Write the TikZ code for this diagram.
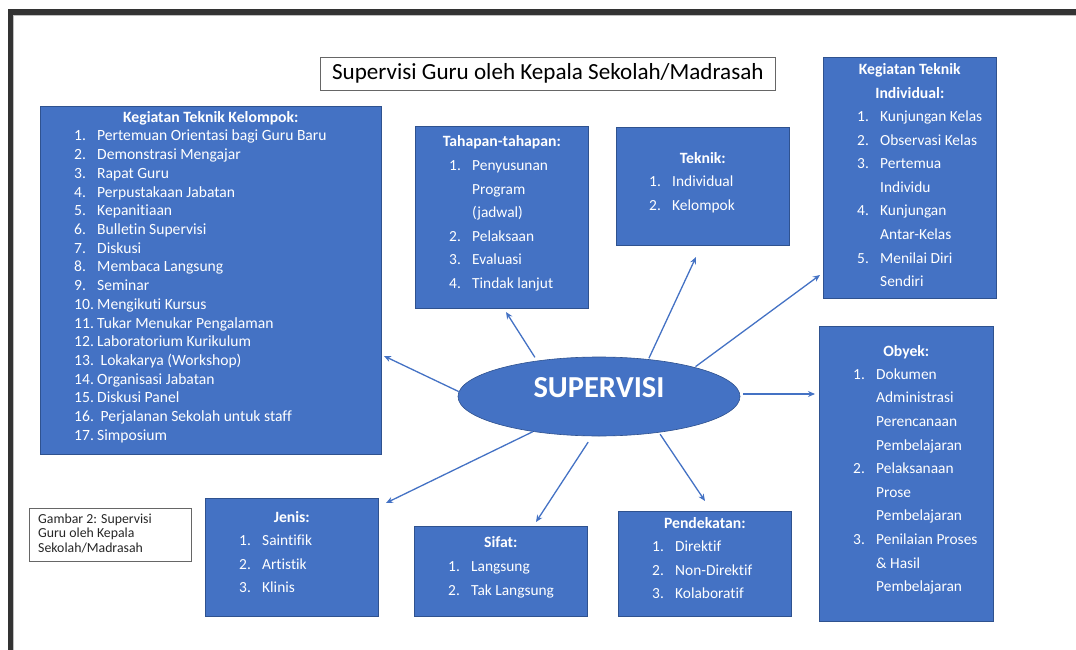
\documentclass[tikz,border=0pt]{standalone}
\usepackage{fontspec}
\setmainfont{Carlito}[Ligatures=NoCommon]
\usetikzlibrary{shapes.geometric,arrows.meta}
\definecolor{obl}{HTML}{4472C4}
\definecolor{obd}{HTML}{2F528F}
\definecolor{frm}{HTML}{333333}
\newlength\numw \setlength\numw{23pt}
\newcommand\itm[2]{\makebox[\numw][l]{#1}#2}
\newcommand\lst[6]{% name, x, y0, dy, size, list
  \foreach [count=\i] \n/\t in {#6} {\node[txt, font=\fontsize{#5}{#5}\selectfont] (#1-\i) at (#2, {#3+(\i-1)*#4}) {\itm{\n}{\t}};}}
\begin{document}
\begin{tikzpicture}[x=1pt,y=-1pt,
  box/.style={draw=obd, line width=0.6pt, fill=obl, anchor=north west, inner sep=0pt, rectangle},
  txt/.style={text=white, anchor=base west, inner sep=0pt},
  hd/.style={text=white, font=\bfseries\fontsize{15.7}{18}\selectfont, anchor=base, inner sep=0pt},
  arr/.style={draw=obl, line width=1.3pt, -{Stealth[length=7pt,width=6pt]}}]
\useasboundingbox (0,0) rectangle (1076,650);
% frame
\fill[frm] (8,9) rectangle (1076,15);
\fill[frm] (8,9) rectangle (13,650);
\draw[black!25, line width=1pt] (13.5,15.5) -- (1076,15.5);
\draw[black!25, line width=1pt] (13.5,15.5) -- (13.5,650);

% title
\node[draw=black!60, line width=0.6pt, minimum width=455pt, minimum height=33pt, anchor=north west, inner sep=0pt, font=\fontsize{23.1}{26}\selectfont] (title) at (320,57) {Supervisi Guru oleh Kepala Sekolah/Madrasah};

% central ellipse
\node[ellipse, draw=obd, line width=0.6pt, fill=obl, minimum width=282pt, minimum height=79pt, inner sep=0pt] (sup) at (599,396.5) {};
\node[text=white, font=\bfseries\fontsize{30.5}{32}\selectfont, anchor=base, inner sep=0pt] (suptxt) at (599,397.3) {SUPERVISI};

% Kegiatan Teknik Kelompok
\node[box, minimum width=341pt, minimum height=348pt] (ktk) at (40,106) {};
\node[hd] (ktk-h) at (ktk.center |- 0,123) {Kegiatan Teknik Kelompok:};
\lst{ktk}{74}{141}{18.7}{15.6}{1./Pertemuan Orientasi bagi Guru Baru, 2./Demonstrasi Mengajar, 3./Rapat Guru, 4./Perpustakaan Jabatan, 5./Kepanitiaan, 6./Bulletin Supervisi, 7./Diskusi, 8./Membaca Langsung, 9./Seminar, 10./Mengikuti Kursus, 11./Tukar Menukar Pengalaman, 12./Laboratorium Kurikulum, 13./\ Lokakarya (Workshop), 14./Organisasi Jabatan, 15./Diskusi Panel, 16./\ Perjalanan Sekolah untuk staff, 17./Simposium}

% Tahapan
\node[box, minimum width=173pt, minimum height=182pt] (tah) at (415,126) {};
\node[hd] (tah-h) at (tah.center |- 0,146.7) {Tahapan-tahapan:};
\lst{tah}{449}{170.7}{23.5}{15.4}{1./Penyusunan, /Program, /(jadwal), 2./Pelaksaan, 3./Evaluasi, 4./Tindak lanjut}

% Teknik
\node[box, minimum width=173pt, minimum height=118pt] (tek) at (616,127) {};
\node[hd] (tek-h) at (tek.center |- 0,163.3) {Teknik:};
\lst{tek}{649}{186.7}{23.4}{15.4}{1./Individual, 2./Kelompok}

% Kegiatan Teknik Individual
\node[box, minimum width=173pt, minimum height=241pt] (kti) at (823,57) {};
\node[hd] (kti-h1) at (kti.center |- 0,75) {Kegiatan Teknik};
\node[hd] (kti-h2) at (kti.center |- 0,98.3) {Individual:};
\lst{kti}{857}{121.7}{23.57}{15.4}{1./Kunjungan Kelas, 2./Observasi Kelas, 3./Pertemua, /Individu, 4./Kunjungan, /Antar-Kelas, 5./Menilai Diri, /Sendiri}

% Obyek
\node[box, minimum width=174pt, minimum height=295pt] (oby) at (819,326) {};
\node[hd] (oby-h) at (oby.center |- 0,356) {Obyek:};
\lst{oby}{853}{379.3}{23.6}{15.4}{1./Dokumen, /Administrasi, /Perencanaan, /Pembelajaran, 2./Pelaksanaan, /Prose, /Pembelajaran, 3./Penilaian Proses, /\& Hasil, /Pembelajaran}

% Jenis
\node[box, minimum width=173pt, minimum height=118pt] (jen) at (205,498) {};
\node[hd] (jen-h) at (jen.center |- 0,522.3) {Jenis:};
\lst{jen}{239}{545.7}{23.3}{15.4}{1./Saintifik, 2./Artistik, 3./Klinis}

% Sifat
\node[box, minimum width=173pt, minimum height=90pt] (sif) at (414,526) {};
\node[hd] (sif-h) at (sif.center |- 0,547.7) {Sifat:};
\lst{sif}{448}{571.3}{23.7}{15.4}{1./Langsung, 2./Tak Langsung}

% Pendekatan
\node[box, minimum width=173pt, minimum height=105pt] (pen) at (618,511) {};
\node[hd] (pen-h) at (pen.center |- 0,528.3) {Pendekatan:};
\lst{pen}{652}{551.7}{23.5}{15.4}{1./Direktif, 2./Non-Direktif, 3./Kolaboratif}

% caption box
\node[draw=black!60, line width=0.6pt, minimum width=162pt, minimum height=53pt, anchor=north west, inner sep=0pt] (gam) at (29,508) {};
\foreach [count=\i] \t in {Gambar 2: Supervisi, Guru oleh Kepala, Sekolah/Madrasah}
  \node[anchor=base west, inner sep=0pt, text=black!85, font=\fontsize{13.8}{14}\selectfont] (gam-\i) at (38,{523.3+(\i-1)*14.5}) {\t};

% arrow tips
\coordinate (tA) at (384,356);
\coordinate (tB) at (506,312);
\coordinate (tC) at (696,257);
\coordinate (tD) at (820,275);
\coordinate (tE) at (815,394);
\coordinate (tF) at (386,503);
\coordinate (tG) at (536,522);
\coordinate (tH) at (705,501);

\draw[arr] (sup.178) -- (tA);
\draw[arr, shorten <=4pt] (sup.150) -- (tB);
\draw[arr, shorten <=1pt] (sup.37) -- (tC);
\draw[arr, shorten <=1pt] (sup.17) -- (tD);
\draw[arr, shorten <=3pt] (sup.east |- tE) -- (tE);
\draw[arr] (sup.208) -- (tF);
\draw[arr, shorten <=7pt] (sup.260) -- (tG);
\draw[arr, shorten <=2pt] (sup.329) -- (tH);
\end{tikzpicture}
\end{document}
